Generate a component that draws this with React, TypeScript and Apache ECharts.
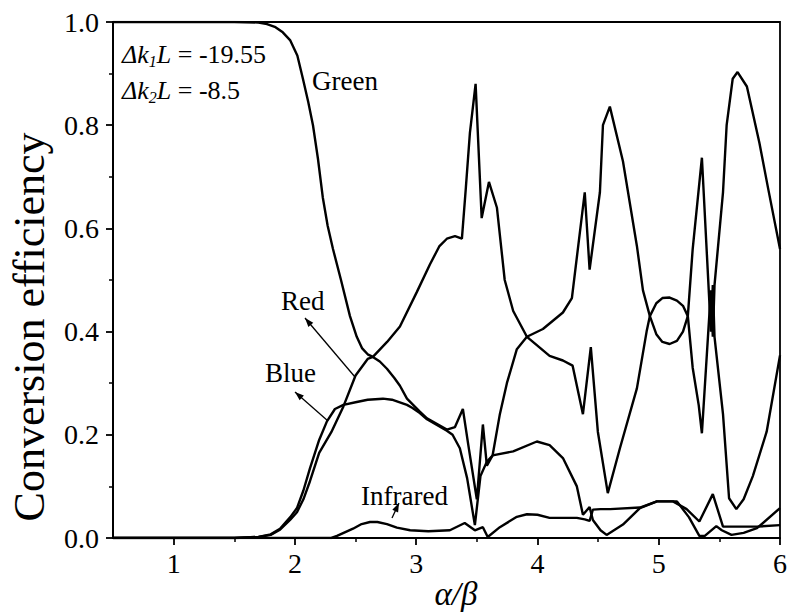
import React, { useEffect, useRef } from "react";
import * as echarts from "echarts";

const FONT = "Liberation Serif";

const xMajorTicks = [1, 2, 3, 4, 5, 6];
const xMinorTicks = [1.5, 2.5, 3.5, 4.5, 5.5];

const greenData = [
  [0.5, 1.0], [1.0, 1.0], [1.5, 1.0], [1.7, 0.999], [1.77, 0.996], [1.84, 0.99], [1.9, 0.98],
  [1.96, 0.965], [2.02, 0.935], [2.066, 0.89], [2.11, 0.845], [2.149, 0.8], [2.19, 0.735],
  [2.23, 0.66], [2.27, 0.605], [2.314, 0.56], [2.38, 0.5], [2.454, 0.43], [2.51, 0.39],
  [2.553, 0.368], [2.6, 0.356], [2.643, 0.351], [2.7, 0.342], [2.759, 0.328], [2.82, 0.31],
  [2.866, 0.295], [2.924, 0.27], [3.03, 0.245], [3.089, 0.232], [3.18, 0.22], [3.253, 0.21],
  [3.32, 0.215], [3.385, 0.25], [3.43, 0.18], [3.5, 0.075], [3.55, 0.22], [3.583, 0.14],
  [3.63, 0.16], [3.69, 0.24], [3.748, 0.3], [3.83, 0.366], [3.913, 0.39], [4.045, 0.405],
  [4.21, 0.437], [4.284, 0.465], [4.39, 0.67], [4.43, 0.52], [4.515, 0.67], [4.54, 0.8],
  [4.597, 0.836], [4.705, 0.73], [4.82, 0.566], [4.87, 0.48], [4.927, 0.43], [4.98, 0.395],
  [5.03, 0.38], [5.09, 0.376], [5.15, 0.382], [5.2, 0.4], [5.24, 0.43], [5.28, 0.56],
  [5.356, 0.737], [5.43, 0.4], [5.446, 0.49], [5.46, 0.39], [5.53, 0.24], [5.58, 0.077],
  [5.64, 0.056], [5.7, 0.075], [5.776, 0.12], [5.89, 0.206], [6.0, 0.354],
];

const redData = [
  [0.5, 0], [1.5, 0], [1.7, 0.002], [1.8, 0.006], [1.877, 0.016], [1.96, 0.035], [2.017, 0.05],
  [2.07, 0.075], [2.124, 0.11], [2.2, 0.165], [2.3, 0.205], [2.4, 0.255], [2.5, 0.315],
  [2.6, 0.347], [2.643, 0.351], [2.76, 0.38], [2.866, 0.41], [3.006, 0.477], [3.113, 0.53],
  [3.19, 0.565], [3.253, 0.58], [3.32, 0.585], [3.377, 0.58], [3.41, 0.68], [3.443, 0.785],
  [3.49, 0.88], [3.54, 0.62], [3.6, 0.69], [3.666, 0.64], [3.73, 0.5], [3.8, 0.44], [3.913, 0.39],
  [3.938, 0.385], [4.1, 0.353], [4.21, 0.344], [4.29, 0.334], [4.375, 0.24], [4.44, 0.37],
  [4.498, 0.206], [4.58, 0.087], [4.68, 0.174], [4.82, 0.29], [4.9, 0.4], [4.927, 0.43],
  [4.98, 0.455], [5.03, 0.465], [5.09, 0.466], [5.15, 0.46], [5.2, 0.45], [5.24, 0.43],
  [5.28, 0.33], [5.33, 0.257], [5.356, 0.203], [5.43, 0.48], [5.446, 0.39], [5.46, 0.49],
  [5.53, 0.67], [5.56, 0.8], [5.61, 0.89], [5.65, 0.903], [5.727, 0.875], [5.83, 0.766],
  [5.9, 0.68], [6.0, 0.56],
];

const blueData = [
  [0.5, 0], [1.5, 0], [1.7, 0.002], [1.8, 0.007], [1.877, 0.018], [1.96, 0.04], [2.017, 0.058],
  [2.07, 0.092], [2.124, 0.135], [2.2, 0.19], [2.264, 0.226], [2.33, 0.25], [2.4, 0.258],
  [2.5, 0.263], [2.6, 0.268], [2.726, 0.27], [2.8, 0.268], [2.924, 0.258], [2.97, 0.252],
  [3.03, 0.242], [3.089, 0.23], [3.253, 0.208], [3.3, 0.2], [3.36, 0.174], [3.42, 0.116],
  [3.484, 0.025], [3.53, 0.12], [3.583, 0.148], [3.63, 0.16], [3.8, 0.168], [3.995, 0.187],
  [4.1, 0.18], [4.21, 0.155], [4.325, 0.1], [4.375, 0.045], [4.43, 0.06], [4.457, 0.035],
  [4.52, 0.015], [4.57, 0.006], [4.705, 0.026], [4.845, 0.058], [4.985, 0.071], [5.15, 0.071],
  [5.25, 0.04], [5.335, 0.004], [5.38, 0.004], [5.475, 0.023], [5.52, 0.015], [5.6, 0.006],
  [5.7, 0.01], [5.81, 0.019], [6.0, 0.058],
];

const infraredData = [
  [0.5, 0], [2.3, 0], [2.347, 0.004], [2.42, 0.012], [2.479, 0.018], [2.55, 0.027],
  [2.619, 0.031], [2.68, 0.031], [2.759, 0.027], [2.841, 0.02], [2.95, 0.015], [3.1, 0.013],
  [3.278, 0.015], [3.4, 0.029], [3.484, 0.015], [3.55, 0.021], [3.59, 0.002], [3.69, 0.021],
  [3.83, 0.041], [3.913, 0.046], [4.0, 0.045], [4.1, 0.039], [4.325, 0.039], [4.39, 0.036],
  [4.43, 0.033], [4.457, 0.055], [4.52, 0.056], [4.6, 0.056], [4.845, 0.059], [4.985, 0.071],
  [5.117, 0.071], [5.23, 0.056], [5.335, 0.032], [5.446, 0.085], [5.53, 0.022], [5.81, 0.022],
  [6.0, 0.025],
];

function arrowHead(tip: number[], tail: number[], len: number, half: number) {
  const dx = tip[0] - tail[0];
  const dy = tip[1] - tail[1];
  const d = Math.sqrt(dx * dx + dy * dy);
  const ux = dx / d;
  const uy = dy / d;
  const bx = tip[0] - ux * len;
  const by = tip[1] - uy * len;
  return [
    [tip[0], tip[1]],
    [bx - uy * half, by + ux * half],
    [bx + uy * half, by - ux * half],
  ];
}

function arrow(tail: number[], tip: number[]) {
  return [
    { type: "line", shape: { x1: tail[0], y1: tail[1], x2: tip[0], y2: tip[1] }, style: { stroke: "#000", lineWidth: 1.3 } },
    { type: "polygon", shape: { points: arrowHead(tip, tail, 9, 3.2) }, style: { fill: "#000" } },
  ];
}

export default function App() {
  const ref = useRef<HTMLDivElement>(null);
  useEffect(() => {
    if (!ref.current) return;
    const chart = echarts.init(ref.current, null, { renderer: "svg" });
    const lineStyle = { color: "#000", width: 2.4 };
    const mk = (name: string, data: number[][]) => ({
      name,
      type: "line",
      data,
      showSymbol: false,
      symbol: "none",
      lineStyle,
      silent: true,
      clip: true,
    });
    const labelText = (text: string, x: number, y: number, size = 27) => ({
      type: "text",
      x,
      y,
      style: { text, fontSize: size, fontFamily: FONT, fill: "#000", verticalAlign: "middle", align: "left" },
    });
    const rich = {
      i: { fontStyle: "italic", fontSize: 26, fontFamily: FONT, fill: "#000" },
      n: { fontSize: 26, fontFamily: FONT, fill: "#000" },
      s: { fontStyle: "italic", fontSize: 16, fontFamily: FONT, fill: "#000", padding: [14, 0, 0, 0] },
    };
    chart.setOption({
      animation: false,
      backgroundColor: "#fff",
      grid: { left: 113, right: 10, top: 22, bottom: 78, show: true, borderColor: "#000", borderWidth: 1.8, backgroundColor: "transparent" },
      xAxis: [
        {
          type: "value",
          min: 0.5,
          max: 6,
          axisLine: { show: true, onZero: false, lineStyle: { color: "#000", width: 2 } },
          axisTick: { show: true, inside: false, length: 7, customValues: xMajorTicks, lineStyle: { color: "#000", width: 1.8 } },
          axisLabel: { show: true, customValues: xMajorTicks, fontSize: 28, fontFamily: FONT, color: "#000", margin: 11 },
          splitLine: { show: false },
        },
        {
          type: "value",
          min: 0.5,
          max: 6,
          position: "bottom",
          axisLine: { show: false },
          axisTick: { show: true, inside: false, length: 4, customValues: xMinorTicks, lineStyle: { color: "#000", width: 1.5 } },
          axisLabel: { show: false },
          splitLine: { show: false },
        },
      ],
      yAxis: {
        type: "value",
        min: 0,
        max: 1,
        interval: 0.2,
        axisLine: { show: true, lineStyle: { color: "#000", width: 2 } },
        axisTick: { show: true, inside: false, length: 7, lineStyle: { color: "#000", width: 1.8 } },
        minorTick: { show: true, splitNumber: 2, length: 4, lineStyle: { color: "#000", width: 1.5 } },
        axisLabel: { fontSize: 28, fontFamily: FONT, color: "#000", margin: 14, formatter: (v: number) => v.toFixed(1) },
        splitLine: { show: false },
      },
      series: [
        mk("Green", greenData),
        mk("Red", redData),
        mk("Blue", blueData),
        mk("Infrared", infraredData),
      ],
      graphic: [
        {
          type: "text",
          x: 29,
          y: 327,
          rotation: Math.PI / 2,
          style: { text: "Conversion efficiency", fontSize: 44, fontFamily: FONT, fill: "#000", align: "center", verticalAlign: "middle" },
        },
        {
          type: "text",
          x: 456,
          y: 594,
          style: { text: "α/β", fontSize: 33, fontStyle: "italic", fontFamily: FONT, fill: "#000", align: "center", verticalAlign: "middle" },
        },
        {
          type: "text",
          x: 122,
          y: 54,
          style: { text: "{i|Δk}{s|1}{i|L}{n| = -19.55}", rich, fill: "#000", verticalAlign: "middle", align: "left" },
        },
        {
          type: "text",
          x: 122,
          y: 90,
          style: { text: "{i|Δk}{s|2}{i|L}{n| = -8.5}", rich, fill: "#000", verticalAlign: "middle", align: "left" },
        },
        labelText("Green", 312, 81),
        labelText("Red", 281, 301),
        labelText("Blue", 265, 373),
        labelText("Infrared", 361, 496),
        ...arrow([355, 377], [305, 318]),
        ...arrow([328, 421], [295, 392]),
        ...arrow([392, 518], [399, 503]),
      ],
    });
    return () => chart.dispose();
  }, []);
  return <div ref={ref} style={{ position: "fixed", left: 0, top: 0, width: 790, height: 616, background: "#fff" }} />;
}
